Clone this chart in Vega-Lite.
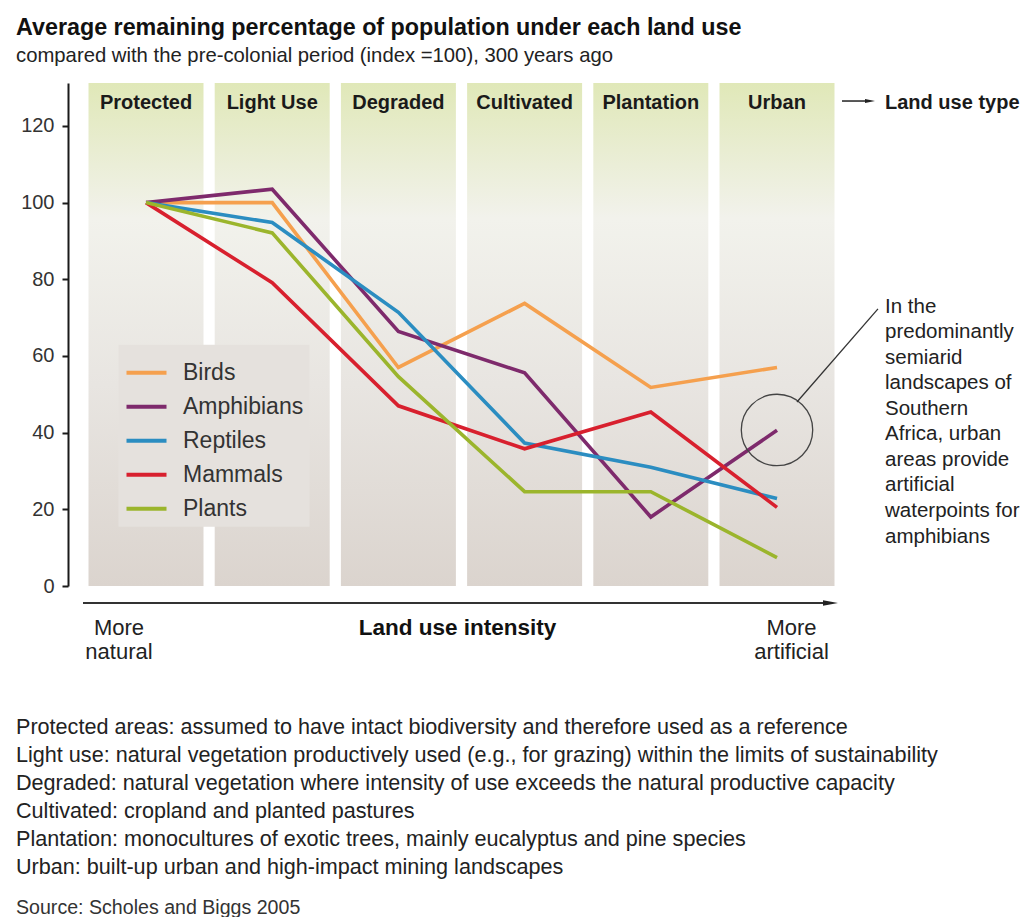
{
  "$schema": "https://vega.github.io/schema/vega-lite/v6.json",
  "width": 954,
  "height": 503,
  "padding": {"left": 16, "top": 16, "right": 0, "bottom": 0},
  "background": "white",
  "config": {"view": {"stroke": null}, "font": "Liberation Sans"},
  "title": {
    "text": "Average remaining percentage of population under each land use",
    "subtitle": "compared with the pre-colonial period (index =100), 300 years ago",
    "anchor": "start",
    "frame": "bounds",
    "font": "Liberation Sans",
    "fontSize": 23.3,
    "fontWeight": "bold",
    "color": "#111111",
    "subtitleFont": "Liberation Sans",
    "subtitleFontSize": 20.3,
    "subtitleColor": "#222222",
    "subtitlePadding": 5,
    "offset": 16
  },
  "datasets": {
    "uses": [
      {"use": "Protected", "step": 1},
      {"use": "Light Use", "step": 2},
      {"use": "Degraded", "step": 3},
      {"use": "Cultivated", "step": 4},
      {"use": "Plantation", "step": 5},
      {"use": "Urban", "step": 6}
    ],
    "series": [
      {"group": "Birds", "use": "Protected", "step": 1, "value": 100},
      {"group": "Birds", "use": "Light Use", "step": 2, "value": 100},
      {"group": "Birds", "use": "Degraded", "step": 3, "value": 57.0},
      {"group": "Birds", "use": "Cultivated", "step": 4, "value": 73.7},
      {"group": "Birds", "use": "Plantation", "step": 5, "value": 51.8},
      {"group": "Birds", "use": "Urban", "step": 6, "value": 57.0},
      {"group": "Amphibians", "use": "Protected", "step": 1, "value": 100},
      {"group": "Amphibians", "use": "Light Use", "step": 2, "value": 103.5},
      {"group": "Amphibians", "use": "Degraded", "step": 3, "value": 66.4},
      {"group": "Amphibians", "use": "Cultivated", "step": 4, "value": 55.6},
      {"group": "Amphibians", "use": "Plantation", "step": 5, "value": 18.0},
      {"group": "Amphibians", "use": "Urban", "step": 6, "value": 40.6},
      {"group": "Reptiles", "use": "Protected", "step": 1, "value": 100},
      {"group": "Reptiles", "use": "Light Use", "step": 2, "value": 94.8},
      {"group": "Reptiles", "use": "Degraded", "step": 3, "value": 71.4},
      {"group": "Reptiles", "use": "Cultivated", "step": 4, "value": 37.3},
      {"group": "Reptiles", "use": "Plantation", "step": 5, "value": 31.0},
      {"group": "Reptiles", "use": "Urban", "step": 6, "value": 22.8},
      {"group": "Mammals", "use": "Protected", "step": 1, "value": 100},
      {"group": "Mammals", "use": "Light Use", "step": 2, "value": 79.1},
      {"group": "Mammals", "use": "Degraded", "step": 3, "value": 47.0},
      {"group": "Mammals", "use": "Cultivated", "step": 4, "value": 35.8},
      {"group": "Mammals", "use": "Plantation", "step": 5, "value": 45.4},
      {"group": "Mammals", "use": "Urban", "step": 6, "value": 20.5},
      {"group": "Plants", "use": "Protected", "step": 1, "value": 100},
      {"group": "Plants", "use": "Light Use", "step": 2, "value": 92.1},
      {"group": "Plants", "use": "Degraded", "step": 3, "value": 54.6},
      {"group": "Plants", "use": "Cultivated", "step": 4, "value": 24.6},
      {"group": "Plants", "use": "Plantation", "step": 5, "value": 24.6},
      {"group": "Plants", "use": "Urban", "step": 6, "value": 7.4}
    ]
  },
  "layer": [
    {
      "data": {"name": "uses"},
      "mark": {
        "type": "bar",
        "width": 115,
        "color": {
          "gradient": "linear",
          "x1": 0, "y1": 0, "x2": 0, "y2": 1,
          "stops": [
            {"offset": 0, "color": "#e0e8b8"},
            {"offset": 0.27, "color": "#f2f2ec"},
            {"offset": 0.6, "color": "#e8e5e1"},
            {"offset": 1, "color": "#dbd4ce"}
          ]
        }
      },
      "encoding": {
        "x": {"field": "step", "type": "quantitative", "axis": null,
              "scale": {"domain": [0.3819, 7.9413], "nice": false, "zero": false, "padding": 0}},
        "y": {"datum": 131.2, "type": "quantitative",
              "scale": {"domain": [0, 131.2], "nice": false, "zero": false, "padding": 0},
              "axis": {"values": [0, 20, 40, 60, 80, 100, 120], "title": null, "grid": false,
                       "domainColor": "#1a1a1a", "domainWidth": 2, "tickColor": "#1a1a1a", "tickWidth": 2,
                       "tickSize": 6, "labelPadding": 8, "labelFontSize": 20, "labelColor": "#333333",
                       "labelFont": "Liberation Sans"}},
        "y2": {"datum": 0}
      }
    },
    {
      "data": {"name": "uses"},
      "mark": {"type": "text", "fontSize": 20, "fontWeight": "bold", "color": "#1a1a1a", "baseline": "alphabetic", "align": "center"},
      "encoding": {
        "x": {"field": "step", "type": "quantitative"},
        "y": {"datum": 124.4},
        "text": {"field": "use"}
      }
    },
    {
      "data": {"name": "series"},
      "mark": {"type": "line", "strokeWidth": 3.6},
      "encoding": {
        "x": {"field": "step", "type": "quantitative"},
        "y": {"field": "value", "type": "quantitative"},
        "color": {
          "field": "group", "type": "nominal",
          "scale": {"domain": ["Birds", "Amphibians", "Reptiles", "Mammals", "Plants"],
                    "range": ["#f5a04e", "#7e2a6c", "#2b8dc1", "#d8202e", "#9bb52c"]},
          "legend": {"orient": "none", "legendX": 50.5, "legendY": 261.7, "title": null,
                     "symbolType": "stroke", "symbolStrokeWidth": 4, "symbolSize": 1600,
                     "labelFontSize": 23, "labelFont": "Liberation Sans", "labelColor": "#333333",
                     "labelOffset": 14.5, "rowPadding": 0,
                     "fillColor": "#e5e1dd",
                     "padding": 6}
        }
      }
    },
    {
      "data": {"values": [{}]},
      "mark": {"type": "point", "filled": false, "size": 5100, "stroke": "#444444", "strokeWidth": 1.3, "opacity": 1},
      "encoding": {"x": {"datum": 6}, "y": {"datum": 40.7}}
    },
    {
      "data": {"values": [{}]},
      "mark": {"type": "rule", "color": "#333333", "strokeWidth": 1.3},
      "encoding": {"x": {"datum": 6.158}, "y": {"datum": 48.0}, "x2": {"datum": 6.8}, "y2": {"datum": 72.3}}
    },
    {
      "data": {"values": [{}]},
      "mark": {"type": "rule", "color": "#333333", "strokeWidth": 2},
      "encoding": {"x": {"datum": 0.5008}, "x2": {"datum": 6.397}, "y": {"datum": -4.44}}
    },
    {
      "data": {"values": [{}]},
      "mark": {"type": "point", "shape": "M-1,-0.36L1,0L-1,0.36Z", "filled": true, "size": 225, "color": "#222222", "opacity": 1},
      "encoding": {"x": {"datum": 6.424}, "y": {"datum": -4.44}}
    },
    {
      "data": {"values": [{}]},
      "mark": {"type": "rule", "color": "#222222", "strokeWidth": 1.5},
      "encoding": {"x": {"datum": 6.515}, "x2": {"datum": 6.72}, "y": {"datum": 126.5}}
    },
    {
      "data": {"values": [{}]},
      "mark": {"type": "point", "shape": "M-1,-0.4L1,0L-1,0.4Z", "filled": true, "size": 100, "color": "#222222", "opacity": 1},
      "encoding": {"x": {"datum": 6.737}, "y": {"datum": 126.5}}
    },
    {
      "data": {"values": [{}]},
      "mark": {"type": "text", "text": "Land use type", "fontSize": 20, "fontWeight": "bold", "color": "#1a1a1a", "align": "left", "baseline": "alphabetic"},
      "encoding": {"x": {"datum": 6.856}, "y": {"datum": 124.4}}
    },
    {
      "data": {"values": [{}]},
      "mark": {"type": "text", "text": ["In the", "predominantly", "semiarid", "landscapes of", "Southern", "Africa, urban", "areas provide", "artificial", "waterpoints for", "amphibians"],
               "fontSize": 20.5, "lineHeight": 25.55, "color": "#222222", "align": "left", "baseline": "alphabetic"},
      "encoding": {"x": {"datum": 6.856}, "y": {"datum": 71.3}}
    },
    {
      "data": {"values": [{}]},
      "mark": {"type": "text", "text": ["More", "natural"], "fontSize": 22, "lineHeight": 24, "color": "#222222", "align": "center", "baseline": "alphabetic"},
      "encoding": {"x": {"datum": 0.786}, "y": {"datum": -12.87}}
    },
    {
      "data": {"values": [{}]},
      "mark": {"type": "text", "text": ["More", "artificial"], "fontSize": 22, "lineHeight": 24, "color": "#222222", "align": "center", "baseline": "alphabetic"},
      "encoding": {"x": {"datum": 6.115}, "y": {"datum": -12.87}}
    },
    {
      "data": {"values": [{}]},
      "mark": {"type": "text", "text": "Land use intensity", "fontSize": 22.5, "fontWeight": "bold", "color": "#111111", "align": "center", "baseline": "alphabetic"},
      "encoding": {"x": {"datum": 3.468}, "y": {"datum": -12.87}}
    },
    {
      "data": {"values": [{}]},
      "mark": {"type": "text", "text": [
        "Protected areas: assumed to have intact biodiversity and therefore used as a reference",
        "Light use: natural vegetation productively used (e.g., for grazing) within the limits of sustainability",
        "Degraded: natural vegetation where intensity of use exceeds the natural productive capacity",
        "Cultivated: cropland and planted pastures",
        "Plantation: monocultures of exotic trees, mainly eucalyptus and pine species",
        "Urban: built-up urban and high-impact mining landscapes"],
        "fontSize": 21.6, "lineHeight": 28, "color": "#222222", "align": "left", "baseline": "alphabetic"},
      "encoding": {"x": {"datum": -0.0301}, "y": {"datum": -38.69}}
    },
    {
      "data": {"values": [{}]},
      "mark": {"type": "text", "text": "Source: Scholes and Biggs 2005", "fontSize": 19.6, "color": "#333333", "align": "left", "baseline": "alphabetic"},
      "encoding": {"x": {"datum": -0.0301}, "y": {"datum": -85.57}}
    }
  ]
}
